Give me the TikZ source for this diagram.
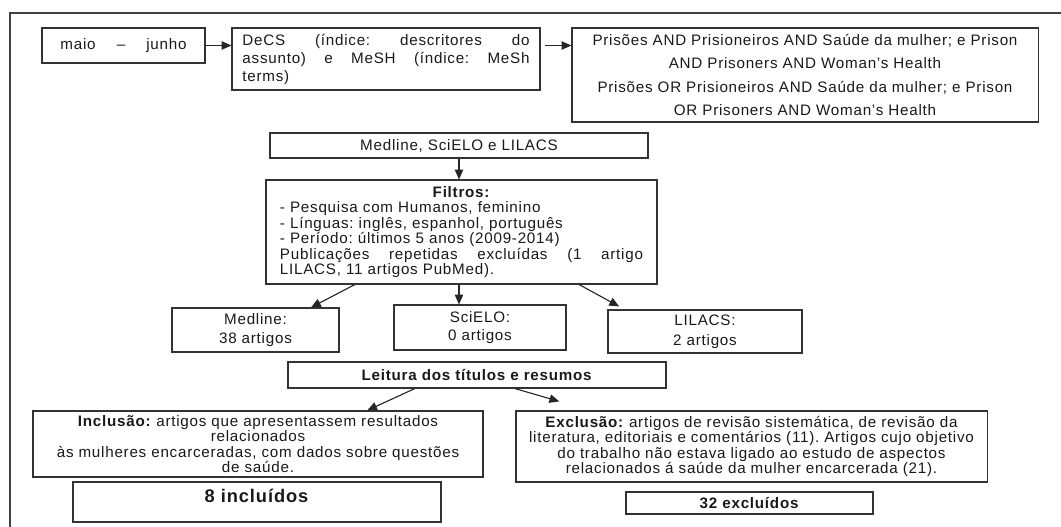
\documentclass[tikz,border=0pt]{standalone}
\usepackage{fontspec}
\setmainfont{Liberation Sans}[LetterSpace=5]
\usetikzlibrary{arrows.meta,calc}
\newcommand{\fullline}[2]{\makebox[#1][s]{\frenchspacing\spaceskip=0pt\xspaceskip=0pt\relax #2}}

\begin{document}
\begin{tikzpicture}[x=0.025cm,y=-0.025cm,font=\fontsize{10.8}{11}\selectfont\frenchspacing,
    text=black!90]

      \useasboundingbox (0,0) rectangle (1061,527);
      \draw[line width=0.9pt,black!75] (1061,13) -- (10,13) -- (10,527);

      \begin{scope}[every node/.style={draw=black!80,line width=0.8pt,rectangle,inner sep=0pt,align=center}]
        \node[minimum width=4.075cm,minimum height=0.875cm] (periodo) at (123.5,45.5)
          {\fullline{3.15cm}{maio \ – \ junho}};
        \node[minimum width=7.7cm,minimum height=1.55cm,text width=7.175cm,align=left,
          font=\fontsize{10.8}{12.8}\selectfont\frenchspacing] (decs) at (386,59)
          {\fullline{7.175cm}{DeCS (índice: descritores do}\\
           \fullline{7.175cm}{assunto) e MeSH (índice: MeSh}\\
           terms)};
        \node[minimum width=11.65cm,minimum height=2.35cm,font=\fontsize{10.8}{16.4}\selectfont\frenchspacing] (prisoes) at (805,75)
          {Prisões AND Prisioneiros AND Saúde da mulher; e Prison\\
           AND Prisoners AND Woman's Health\\
           Prisões OR Prisioneiros AND Saúde da mulher; e Prison\\
           OR Prisoners AND Woman's Health};
        \node[minimum width=9.45cm,minimum height=0.625cm] (base) at (459,145.5)
          {Medline, SciELO e LILACS};
        \node[minimum width=9.775cm,minimum height=2.6cm,text width=9.075cm,align=left] (filtros) at (461.5,232)
          {\xspaceskip=0pt\makebox[9.075cm][c]{\textbf{Filtros:}}\\
           - Pesquisa com Humanos, feminino\\
           - Línguas: inglês, espanhol, português\\
           - Período: últimos 5 anos (2009-2014)\\
           \fullline{9.075cm}{Publicações repetidas excluídas (1 artigo}\\
           LILACS, 11 artigos PubMed).};
        \node[minimum width=4.175cm,minimum height=1.1cm,font=\fontsize{10.8}{13}\selectfont] (medline) at (255.5,330)
          {Medline:\\38 artigos};
        \node[minimum width=4.3cm,minimum height=1.125cm,font=\fontsize{10.8}{13}\selectfont] (scielo) at (480,327.5)
          {SciELO:\\0 artigos};
        \node[minimum width=4.85cm,minimum height=1.075cm,font=\fontsize{10.8}{14}\selectfont] (lilacs) at (705,331.5)
          {LILACS:\\2 artigos};
        \node[minimum width=9.45cm,minimum height=0.65cm] (leitura) at (477,375)
          {\textbf{Leitura dos títulos e resumos}};
        \node[minimum width=11.25cm,minimum height=1.65cm] (inclusao) at (258,444)
          {\textbf{Inclusão:} artigos que apresentassem resultados\\
           relacionados\\
           às mulheres encarceradas, com dados sobre questões\\
           de saúde.};
        \node[minimum width=9.2cm,minimum height=1cm,font=\fontsize{13}{14}\selectfont] (incluidos) at (257,502)
          {\raisebox{0pt}[0pt][0pt]{\textbf{8 incluídos}}};
        \node[minimum width=11.775cm,minimum height=1.775cm] (exclusao) at (751.5,446.5)
          {\textbf{Exclusão:} artigos de revisão sistemática, de revisão da\\
           literatura, editoriais e comentários (11). Artigos cujo objetivo\\
           do trabalho não estava ligado ao estudo de aspectos\\
           relacionados á saúde da mulher encarcerada (21).};
        \node[minimum width=6.175cm,minimum height=0.55cm] (excluidos) at (749.5,503)
          {\textbf{32 excluídos}};
      \end{scope}

      \begin{scope}[every edge/.style={draw=black!85,line width=0.8pt,-{Triangle[length=7pt,width=6pt]}}]
        \path (periodo.east) edge (periodo.east -| decs.west);
        \path ([xshift=3pt]decs.east |- periodo) edge (prisoes.west |- periodo);
        \path (base.south) edge (base.south |- filtros.north);
        \path ($(filtros.south west)!0.228!(filtros.south east)$) edge ($(medline.north west)!0.83!(medline.north east)$);
        \path (base.south |- filtros.south) edge (base.south |- scielo.north);
        \path ($(filtros.south west)!0.8!(filtros.south east)$) edge ($(lilacs.north west)!0.06!(lilacs.north east)+(0,-3)$);
        \path ($(leitura.south west)!0.336!(leitura.south east)$) edge ($(inclusao.north west)!0.742!(inclusao.north east)$);
        \path ($(leitura.south west)!0.6!(leitura.south east)$) edge ($(exclusao.north west)!0.093!(exclusao.north east)+(0,-9)$);
      \end{scope}

    \end{tikzpicture}
\end{document}
